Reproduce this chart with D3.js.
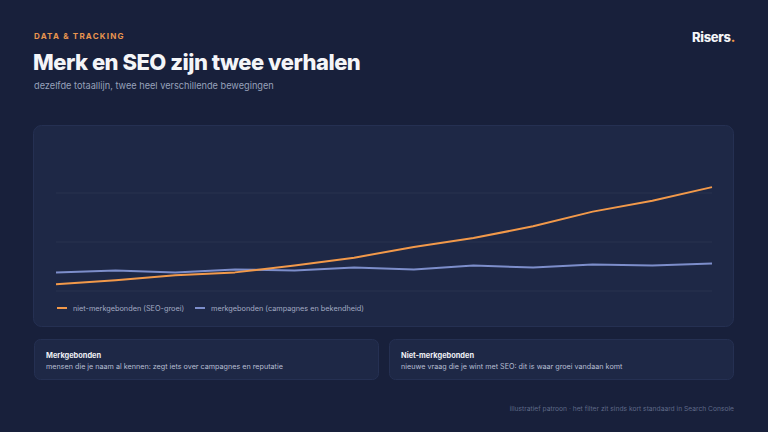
<!DOCTYPE html>
<html><head><meta charset="utf-8">
<script src="https://cdn.jsdelivr.net/npm/d3@7"></script>
<style>
html,body{margin:0;padding:0;background:#18203b;}
svg{display:block;font-family:Inter,"Noto Sans",sans-serif;}
</style></head>
<body>
<svg id="c" width="768" height="432"></svg>
<script>
const periods = ["1","2","3","4","5","6","7","8","9","10","11","12"];
const nonBrand = [7,11,16,19,26,34,45,54,66,81,92,106];
const brand = [19,21,19,22,21,24,22,26,24,27,26,28];
const gridTicks = [0,50,100];
const seriesNames = ["niet-merkgebonden (SEO-groei)","merkgebonden (campagnes en bekendheid)"];
const colors = ["#f2994a","#7d8ecb"];

const svg = d3.select("#c");
svg.append("rect").attr("width",768).attr("height",432).attr("fill","#18203b");

svg.append("text").attr("x",34).attr("y",39).attr("fill","#e8954f")
  .attr("font-size",8).attr("font-weight",700).attr("letter-spacing",1.2).text("DATA & TRACKING");
svg.append("text").attr("x",33).attr("y",70).attr("fill","#f4f5f8")
  .attr("font-size",22).attr("font-weight",800).attr("letter-spacing",-0.5).text("Merk en SEO zijn twee verhalen");
svg.append("text").attr("x",34).attr("y",89).attr("fill","#97a0ba")
  .attr("font-size",9.2).text("dezelfde totaallijn, twee heel verschillende bewegingen");

const logo = svg.append("text").attr("x",692).attr("y",42).attr("fill","#f4f5f8")
  .attr("font-size",13).attr("font-weight",800).attr("letter-spacing",-0.3);
logo.append("tspan").text("Risers");
logo.append("tspan").attr("fill","#f2994a").text(".");

// chart panel
svg.append("rect").attr("x",33.5).attr("y",125.5).attr("width",700).attr("height",201).attr("rx",8)
  .attr("fill","#1e2846").attr("stroke","#253052");

const x = d3.scalePoint().domain(periods).range([56,712]);
const y = d3.scaleLinear().domain([0,150]).range([291,144]);

svg.append("g").selectAll("line").data(gridTicks).join("line")
  .attr("x1",56).attr("x2",712).attr("y1",d=>y(d)).attr("y2",d=>y(d))
  .attr("stroke","#28334f").attr("stroke-width",1);

const line = d3.line().x((d,i)=>x(periods[i])).y(d=>y(d));
[brand, nonBrand].forEach((s,k)=>{
  svg.append("path").datum(s).attr("d",line).attr("fill","none")
    .attr("stroke", k===0?colors[1]:colors[0]).attr("stroke-width",2).attr("stroke-linejoin","round");
});

// legend
const legX = [57,195];
seriesNames.forEach((n,i)=>{
  svg.append("line").attr("x1",legX[i]).attr("x2",legX[i]+10).attr("y1",308).attr("y2",308)
    .attr("stroke",colors[i]).attr("stroke-width",2);
  svg.append("text").attr("x",legX[i]+16).attr("y",311).attr("fill","#a3abc3").attr("font-size",7.3).text(n);
});

// cards
const cards = [
  {x:34, t:"Merkgebonden", s:"mensen die je naam al kennen: zegt iets over campagnes en reputatie"},
  {x:389, t:"Niet-merkgebonden", s:"nieuwe vraag die je wint met SEO: dit is waar groei vandaan komt"}
];
cards.forEach(c=>{
  svg.append("rect").attr("x",c.x+0.5).attr("y",339.5).attr("width",344).attr("height",40).attr("rx",6)
    .attr("fill","#1e2846").attr("stroke","#253052");
  svg.append("text").attr("x",c.x+12).attr("y",357.5).attr("fill","#eef0f5").attr("font-size",7.4).attr("font-weight",700).text(c.t);
  svg.append("text").attr("x",c.x+12).attr("y",368.5).attr("fill","#b8bfd3").attr("font-size",7.2).text(c.s);
});

svg.append("text").attr("x",734).attr("y",411).attr("text-anchor","end").attr("fill","#5f6987")
  .attr("font-size",6.7).text("illustratief patroon · het filter zit sinds kort standaard in Search Console");
</script>
</body></html>
